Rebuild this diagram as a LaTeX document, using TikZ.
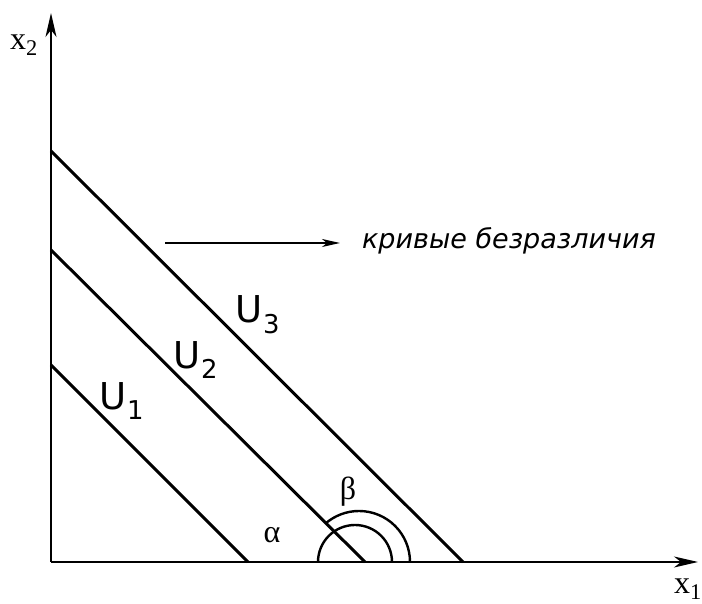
\documentclass[tikz,border=0pt]{standalone}
\usepackage{fontspec}
\setmainfont{Liberation Serif}
\newfontfamily\curvefont{DejaVu Sans}
\usepackage{tikz}
\usetikzlibrary{arrows.meta,positioning,calc}

\begin{document}
\begin{tikzpicture}[
    x=1pt, y=1pt,
    axis/.style={line width=1.8pt, -{Stealth[length=24pt, width=11pt, inset=7pt]}},
    curve/.style={line width=3pt},
    arcline/.style={line width=2.4pt},
    ulab/.style={font=\fontsize{37}{37}\curvefont, inner sep=0pt},
    xlab/.style={font=\fontsize{32}{32}\selectfont, inner sep=0pt},
    glab/.style={font=\fontsize{32}{32}\selectfont, inner sep=0pt},
    note/.style={font=\fontsize{27}{27}\curvefont\itshape, inner sep=0pt},
    pointer/.style={line width=1.5pt, -{Stealth[length=18pt, width=8pt, inset=5pt]}}
]
\useasboundingbox (0,0) rectangle (702,604);

% ---- axes ----
\coordinate (O) at (51,42);
\coordinate (xEnd) at (698,42);
\coordinate (yEnd) at (51,591);
\draw[axis] (O) -- (xEnd);
\draw[axis] (O) -- (yEnd);
\node[xlab] (x1) at (688,15) {x\textsubscript{1}};
\node[xlab] (x2) at (24,559) {x\textsubscript{2}};

% ---- indifference curves ----
\coordinate (u1a) at (51,239);  \coordinate (u1b) at (248,42);
\coordinate (u2a) at (51,354);  \coordinate (u2b) at (365,42);
\coordinate (u3a) at (51,453);  \coordinate (u3b) at (463,42);
\draw[curve] (u1a) -- (u1b);
\draw[curve] (u2a) -- (u2b);
\draw[curve] (u3a) -- (u3b);
\node[ulab] (U1) at (122,203) {U\textsubscript{1}};
\node[ulab] (U2) at (196,244) {U\textsubscript{2}};
\node[ulab] (U3) at (258,289) {U\textsubscript{3}};

% ---- angles ----
\coordinate (cIn) at (355,42);
\coordinate (cOut) at (359,42);
\draw[arcline] ($(cIn)+(37,0)$) arc[start angle=0, end angle=180, radius=37];
\draw[arcline] ($(cOut)+(51,0)$) arc[start angle=0, end angle=131, radius=51];
\node[glab] (alpha) at (272,69) {α};
\node[glab] (beta) at (348,112) {β};

% ---- label ----
\coordinate (pStart) at (165,361);
\coordinate (pEnd) at (340,361);
\node[note] (curves) at (509,363) {кривые безразличия};
\draw[pointer] (pStart) -- (pEnd);
\end{tikzpicture}
\end{document}
